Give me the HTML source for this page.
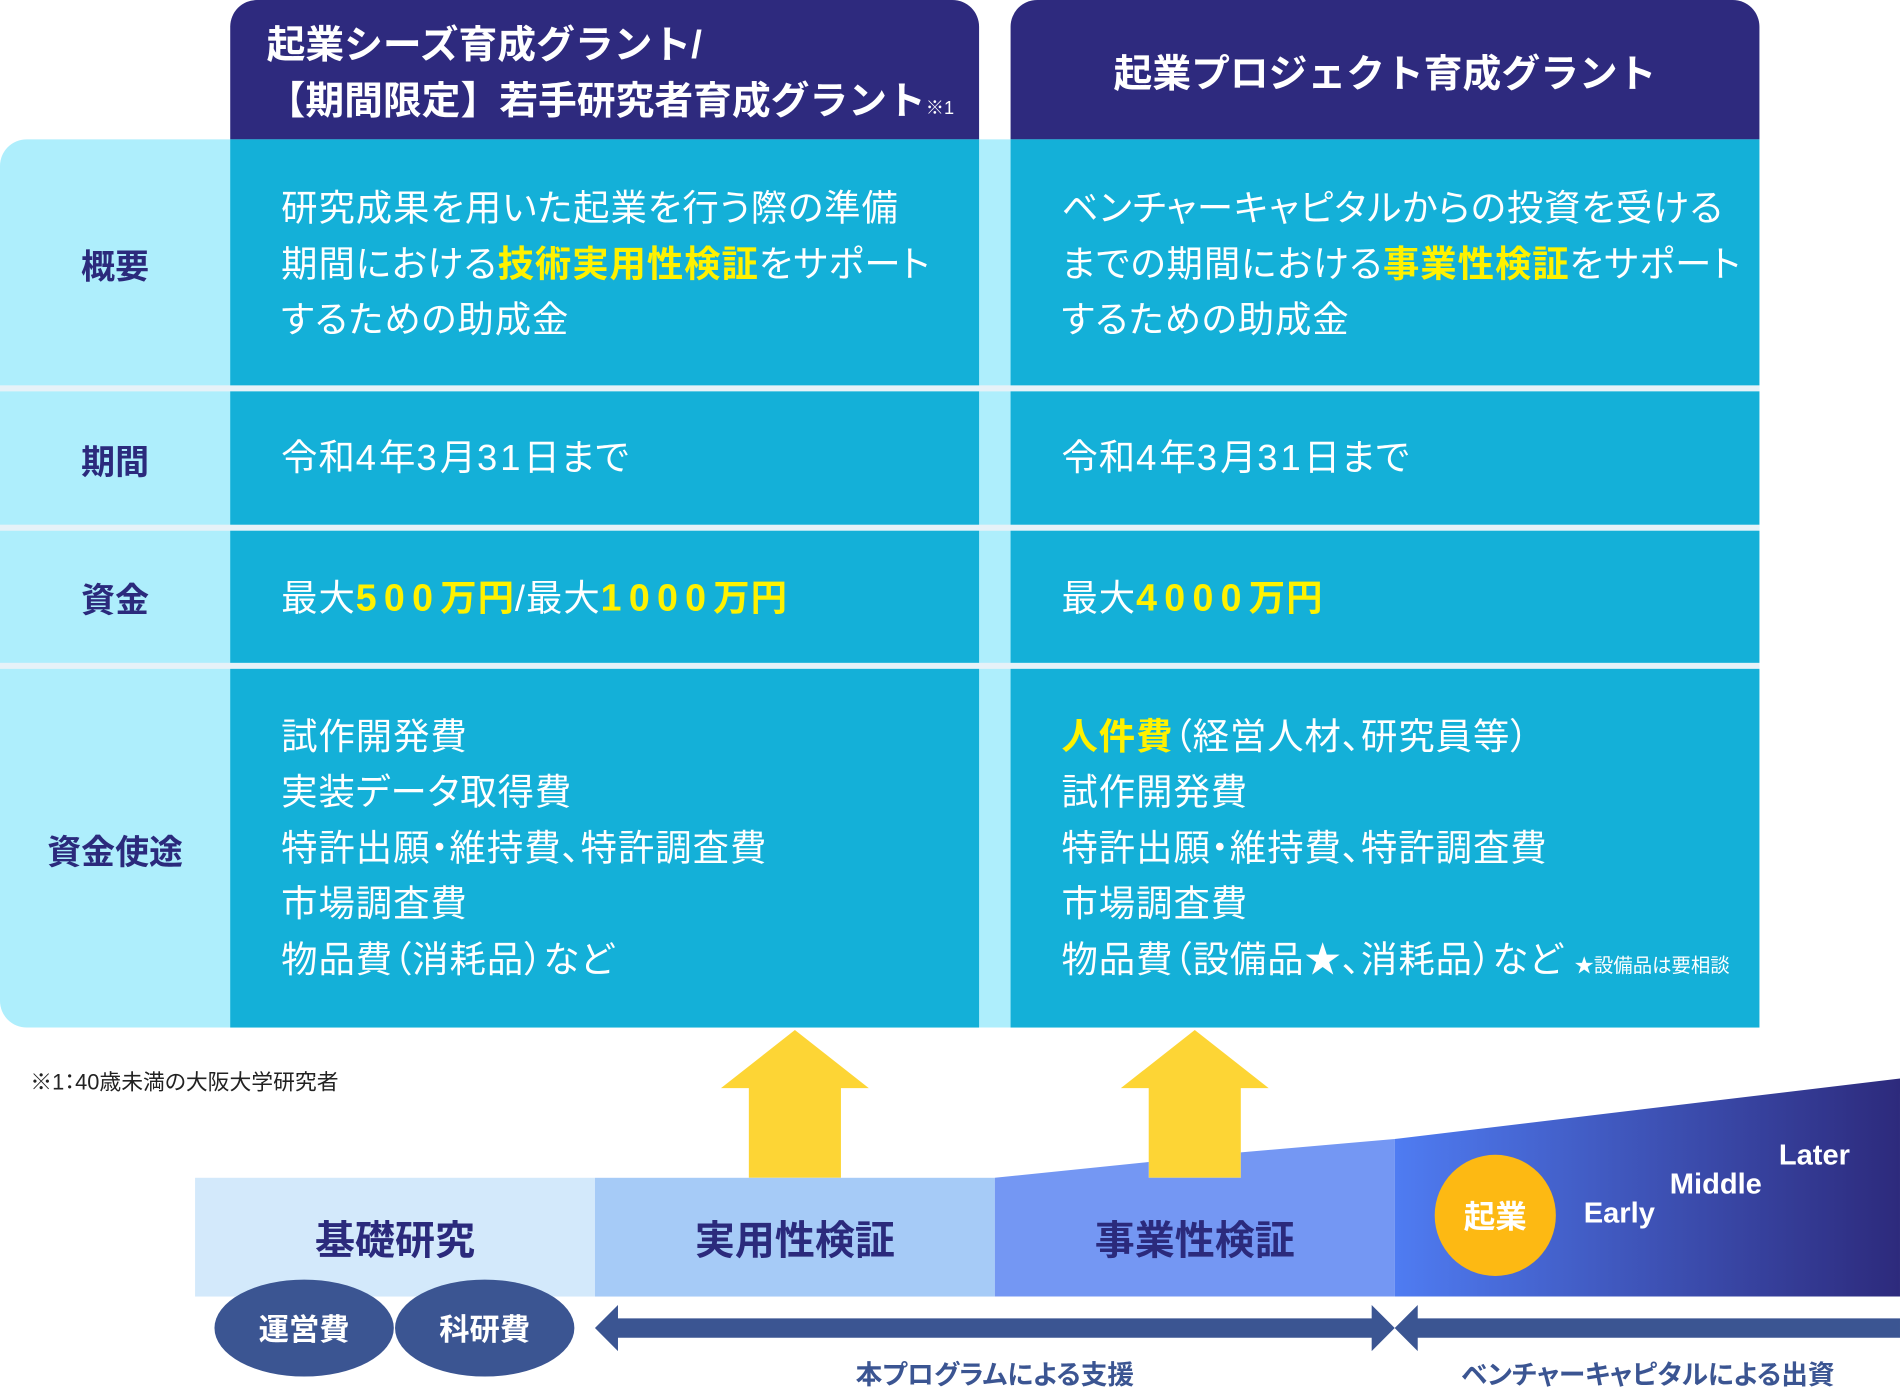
<!DOCTYPE html>
<html><head><meta charset="utf-8">
<style>
html,body{margin:0;padding:0;background:#fff;}
body{width:1900px;height:1385px;overflow:hidden;position:relative;}
#w{position:absolute;left:0;top:0;width:1568px;height:1143px;transform:scale(1.21173);transform-origin:0 0;font-family:"Liberation Sans","Noto Sans CJK JP",sans-serif;font-feature-settings:"palt";}
.a{position:absolute;}
.hd{background:#2e2a7e;color:#fff;font-weight:bold;border-radius:22px 22px 0 0;}
.cell{background:#14b0d8;}
.lab{color:#2b2a7c;font-weight:bold;font-size:28px;width:190px;text-align:center;}
.tx{color:#fff;font-size:30px;line-height:46px;white-space:nowrap;letter-spacing:0.8px;}
.y{color:#fff200;font-weight:bold;}
.d{letter-spacing:2.5px;}
.m{letter-spacing:6px;font-size:31px;}
.bl{color:#2b2a7c;font-weight:bold;font-size:33px;text-align:center;width:330px;}
.np{font-feature-settings:normal;}
</style></head><body><div id="w">
<div class="a" style="left:0;top:115px;width:1452px;height:733px;background:#aeeefc;border-radius:22px 0 0 22px;"></div>
<div class="a" style="left:0;top:318px;width:1452px;height:5px;background:#e6f2f8;"></div>
<div class="a" style="left:0;top:433px;width:1452px;height:5px;background:#e6f2f8;"></div>
<div class="a" style="left:0;top:547px;width:1452px;height:5px;background:#e6f2f8;"></div>
<div class="a hd" style="left:190px;top:0;width:618px;height:115px;"></div>
<div class="a hd" style="left:834px;top:0;width:618px;height:115px;"></div>
<div class="a np" style="left:220px;top:14px;color:#fff;font-weight:bold;font-size:32px;line-height:46px;white-space:nowrap;">起業シーズ育成グラント/<br>【期間限定】若手研究者育成グラント<span style="font-size:15px;font-weight:normal;">※1</span></div>
<div class="a np" style="left:834px;top:36px;width:618px;text-align:center;color:#fff;font-weight:bold;font-size:32px;">起業プロジェクト育成グラント</div>
<div class="a cell" style="left:190px;top:115px;width:618px;height:203px;"></div>
<div class="a cell" style="left:834px;top:115px;width:618px;height:203px;"></div>
<div class="a cell" style="left:190px;top:323px;width:618px;height:110px;"></div>
<div class="a cell" style="left:834px;top:323px;width:618px;height:110px;"></div>
<div class="a cell" style="left:190px;top:438px;width:618px;height:109px;"></div>
<div class="a cell" style="left:834px;top:438px;width:618px;height:109px;"></div>
<div class="a cell" style="left:190px;top:552px;width:618px;height:296px;"></div>
<div class="a cell" style="left:834px;top:552px;width:618px;height:296px;"></div>
<div class="a lab" style="left:0;top:199px;">概要</div>
<div class="a lab" style="left:0;top:360px;">期間</div>
<div class="a lab" style="left:0;top:474px;">資金</div>
<div class="a lab" style="left:0;top:682px;">資金使途</div>
<div class="a tx" style="left:232px;top:150px;">研究成果を用いた起業を行う際の準備<br>期間における<span class="y">技術実用性検証</span>をサポート<br>するための助成金</div>
<div class="a tx" style="left:876px;top:150px;">ベンチャーキャピタルからの投資を受ける<br>までの期間における<span class="y">事業性検証</span>をサポート<br>するための助成金</div>
<div class="a tx" style="left:232px;top:356px;">令和<span class="d">4</span>年<span class="d">3</span>月<span class="d">31</span>日まで</div>
<div class="a tx" style="left:876px;top:356px;">令和<span class="d">4</span>年<span class="d">3</span>月<span class="d">31</span>日まで</div>
<div class="a tx" style="left:232px;top:471px;">最大<span class="y m">500</span><span class="y">万円</span>/最大<span class="y m">1000</span><span class="y">万円</span></div>
<div class="a tx" style="left:876px;top:471px;">最大<span class="y m">4000</span><span class="y">万円</span></div>
<div class="a tx" style="left:232px;top:586px;">試作開発費<br>実装データ取得費<br>特許出願・維持費、特許調査費<br>市場調査費<br>物品費（消耗品）など</div>
<div class="a tx" style="left:876px;top:586px;"><span class="y">人件費</span>（経営人材、研究員等）<br>試作開発費<br>特許出願・維持費、特許調査費<br>市場調査費<br>物品費（設備品★、消耗品）など <span style="font-size:16px;letter-spacing:0;">★設備品は要相談</span></div>
<div class="a" style="left:25px;top:879px;font-size:18px;color:#222;">※1：40歳未満の大阪大学研究者</div>
<svg class="a" style="left:0;top:0;" width="1568" height="1143">
<defs><linearGradient id="g" x1="0" x2="1" y1="0" y2="0"><stop offset="0" stop-color="#4f7cf2"/><stop offset="1" stop-color="#2d2a7c"/></linearGradient></defs>
<polygon points="656,850 717,898 694,898 694,972 618,972 618,898 595,898" fill="#fdd535"/>
<polygon points="986,850 1047,898 1024,898 1024,972 948,972 948,898 925,898" fill="#fdd535"/>
<rect x="161" y="972" width="330" height="98" fill="#d3e9fb"/>
<rect x="491" y="972" width="330" height="98" fill="#a6cbf7"/>
<polygon points="821,972 948,959 948,972 1024,972 1024,951 1151,940 1151,1070 821,1070" fill="#7497f3"/>
<polygon points="1151,940 1568,890 1568,1070 1151,1070" fill="url(#g)"/>
<circle cx="1234" cy="1003" r="50" fill="#fdb913"/>
<ellipse cx="251" cy="1096" rx="74" ry="40" fill="#3b5592"/>
<ellipse cx="400" cy="1096" rx="74" ry="40" fill="#3b5592"/>
<polygon points="491,1096 510,1077 510,1088 1132,1088 1132,1077 1151,1096 1132,1115 1132,1104 510,1104 510,1115" fill="#3b5592"/>
<polygon points="1151,1096 1170,1077 1170,1088 1568,1088 1568,1104 1170,1104 1170,1115" fill="#3b5592"/>
</svg>
<div class="a bl" style="left:161px;top:997px;">基礎研究</div>
<div class="a bl" style="left:491px;top:997px;">実用性検証</div>
<div class="a bl" style="left:821px;top:997px;">事業性検証</div>
<div class="a" style="left:1184px;top:984px;width:100px;text-align:center;color:#fff;font-weight:bold;font-size:26px;">起業</div>
<div class="a" style="left:1307px;top:988px;color:#fff;font-weight:bold;font-size:24px;">Early</div>
<div class="a" style="left:1378px;top:964px;color:#fff;font-weight:bold;font-size:24px;">Middle</div>
<div class="a" style="left:1468px;top:940px;color:#fff;font-weight:bold;font-size:24px;">Later</div>
<div class="a" style="left:177px;top:1078px;width:148px;text-align:center;color:#fff;font-weight:bold;font-size:25px;">運営費</div>
<div class="a" style="left:326px;top:1078px;width:148px;text-align:center;color:#fff;font-weight:bold;font-size:25px;">科研費</div>
<div class="a" style="left:621px;top:1117px;width:400px;text-align:center;color:#3b5592;font-weight:bold;font-size:22px;">本プログラムによる支援</div>
<div class="a" style="left:1160px;top:1117px;width:400px;text-align:center;color:#3b5592;font-weight:bold;font-size:22px;">ベンチャーキャピタルによる出資</div>
</div></body></html>
